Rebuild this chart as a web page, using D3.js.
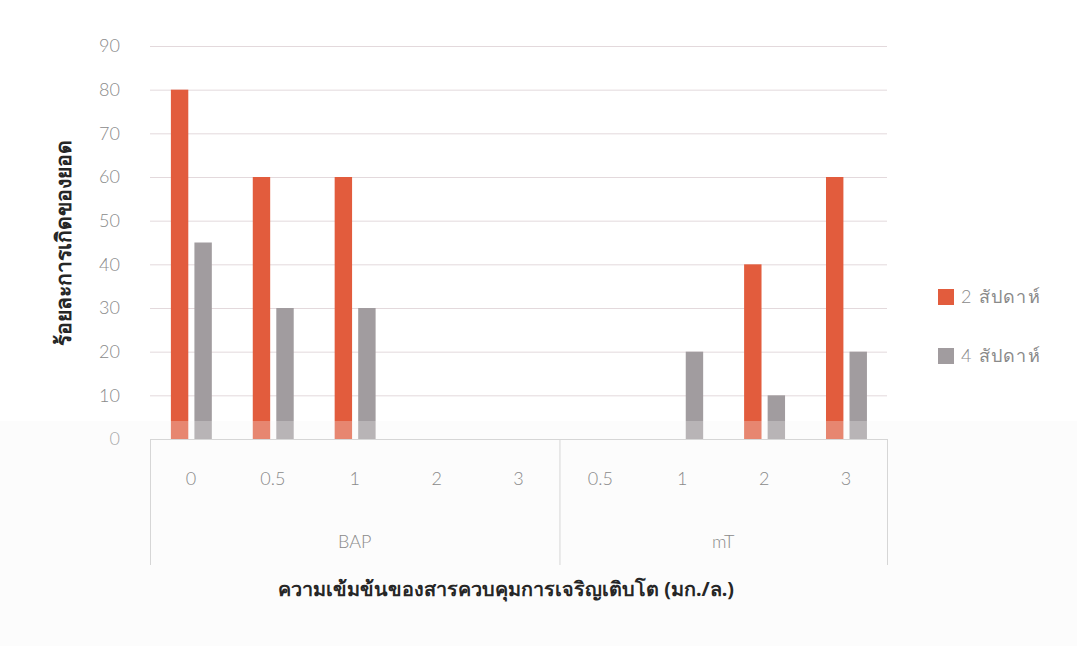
<!DOCTYPE html>
<html>
<head>
<meta charset="utf-8">
<script src="https://cdn.jsdelivr.net/npm/d3@7"></script>
<style>
  html, body { margin: 0; padding: 0; background: #ffffff; }
  svg { display: block; }
</style>
</head>
<body>
<svg id="chart" width="1077" height="646"></svg>
<script>
// Shoot formation (%) by growth regulator and concentration
const groups = ["BAP", "mT"];
const concentrations = [
  ["0", "0.5", "1", "2", "3"],
  ["0.5", "1", "2", "3"]
];
const seriesNames = ["2 สัปดาห์", "4 สัปดาห์"];
const week2 = [80, 60, 60, 0, 0, 0, 0, 40, 60];
const week4 = [45, 30, 30, 0, 0, 0, 20, 10, 20];
const yTicks = [0, 10, 20, 30, 40, 50, 60, 70, 80, 90];
const yTitle = "ร้อยละการเกิดของยอด";
const xTitle = "ความเข้มข้นของสารควบคุมการเจริญเติบโต (มก./ล.)";

const colors = ["#e25c3d", "#a19c9f"];

const svg = d3.select("#chart");
const plot = { left: 150, right: 887, top: 46, bottom: 439, axisBottom: 565 };

// one slot per (group, concentration)
const slots = [];
groups.forEach((g, gi) => concentrations[gi].forEach(c => slots.push({ group: g, conc: c })));
slots.forEach((s, i) => { s.values = [week2[i], week4[i]]; s.key = i; });

const x0 = d3.scaleBand().domain(slots.map(s => s.key)).range([plot.left, plot.right]);
const bw = x0.bandwidth();
const x1 = d3.scaleBand().domain([0, 1]).range([bw * 0.255, bw * 0.755]).paddingInner(0.26);
const y = d3.scaleLinear().domain([0, 90]).range([plot.bottom, plot.top]);

const font = "Lato, 'Open Sans', 'Noto Sans', sans-serif";
const labelColor = "#8a8a8a";

// horizontal grid
svg.append("g")
  .selectAll("line").data(yTicks.filter(t => t > 0)).join("line")
  .attr("x1", plot.left).attr("x2", plot.right)
  .attr("y1", d => y(d) + 0.5).attr("y2", d => y(d) + 0.5)
  .attr("stroke", "#e3d9dc").attr("stroke-width", 1);

// y axis labels
const yAxis = d3.axisLeft(y).tickValues(yTicks).tickSize(0).tickPadding(30);
const ya = svg.append("g").attr("transform", `translate(${plot.left},0)`).call(yAxis);
ya.select(".domain").remove();
ya.selectAll("text").attr("font-family", font).attr("font-size", 18).attr("fill", labelColor).attr("font-weight", 300);

// bars
const gSlots = svg.append("g").selectAll("g").data(slots).join("g")
  .attr("transform", d => `translate(${x0(d.key)},0)`);
gSlots.selectAll("rect").data(d => d.values.map((v, i) => ({ v, i }))).join("rect")
  .attr("x", d => x1(d.i))
  .attr("width", x1.bandwidth())
  .attr("y", d => y(d.v))
  .attr("height", d => y(0) - y(d.v))
  .attr("fill", d => colors[d.i]);

// faded strip across the lower part of the page
svg.append("rect")
  .attr("x", 0).attr("y", 421).attr("width", 1077).attr("height", 225)
  .attr("fill", "#f3f3f3").attr("opacity", 0.28);

// category axis box
const axisColor = "#d6d6d6";
svg.append("line").attr("x1", plot.left).attr("x2", plot.right)
  .attr("y1", plot.bottom + 0.5).attr("y2", plot.bottom + 0.5)
  .attr("stroke", axisColor);
const dividers = [plot.left, x0(concentrations[0].length), plot.right];
svg.append("g").selectAll("line").data(dividers).join("line")
  .attr("x1", d => d + 0.5).attr("x2", d => d + 0.5)
  .attr("y1", plot.bottom).attr("y2", plot.axisBottom)
  .attr("stroke", axisColor);

// concentration labels
svg.append("g").selectAll("text").data(slots).join("text")
  .attr("x", d => x0(d.key) + bw / 2)
  .attr("y", 485)
  .attr("text-anchor", "middle")
  .attr("font-family", font).attr("font-size", 18).attr("font-weight", 300)
  .attr("fill", labelColor)
  .text(d => d.conc);

// group labels
let start = 0;
groups.forEach((g, gi) => {
  const n = concentrations[gi].length;
  const a = x0(start), b = x0(start + n - 1) + bw;
  svg.append("text")
    .attr("x", (a + b) / 2).attr("y", 548)
    .attr("text-anchor", "middle")
    .attr("font-family", font).attr("font-size", 18).attr("font-weight", 300)
    .attr("fill", labelColor)
    .text(g);
  start += n;
});

// axis titles
svg.append("text")
  .attr("transform", "translate(71,243) rotate(-90)")
  .attr("text-anchor", "middle")
  .attr("font-family", "'Noto Sans', sans-serif").attr("font-size", 21).attr("font-weight", 700)
  .attr("fill", "#262626")
  .text(yTitle);

svg.append("text")
  .attr("x", 506).attr("y", 596)
  .attr("text-anchor", "middle")
  .attr("font-family", "'Noto Sans', sans-serif").attr("font-size", 19.8).attr("font-weight", 700)
  .attr("fill", "#262626")
  .text(xTitle);

// legend
const legend = svg.append("g").selectAll("g").data(seriesNames).join("g")
  .attr("transform", (d, i) => `translate(938,${289 + i * 59})`);
legend.append("rect").attr("width", 16).attr("height", 16).attr("fill", (d, i) => colors[i]);
legend.append("text")
  .attr("x", 23).attr("y", 14)
  .attr("font-family", font).attr("font-size", 18).attr("font-weight", 300)
  .attr("letter-spacing", 1.2)
  .attr("fill", labelColor)
  .text(d => d);
</script>
</body>
</html>
